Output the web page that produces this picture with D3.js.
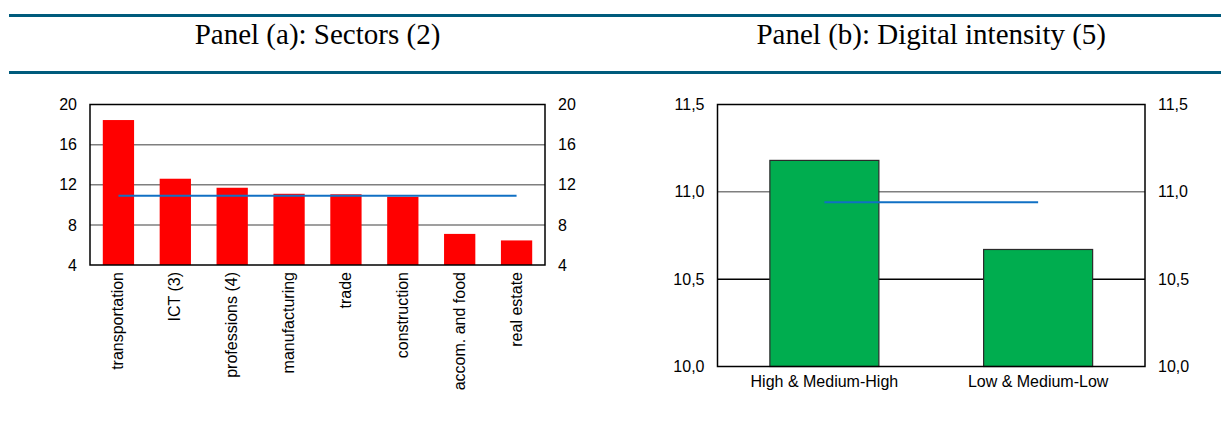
<!DOCTYPE html>
<html>
<head>
<meta charset="utf-8">
<script src="https://cdn.jsdelivr.net/npm/d3@7"></script>
<style>
  html, body { margin: 0; padding: 0; background: #ffffff; }
  svg { display: block; }
  .tick-label { font-family: "Liberation Sans", Arial, sans-serif; font-size: 16px; fill: #000; }
  .title { font-family: "Liberation Serif", "Times New Roman", serif; font-size: 29px; fill: #000; }
</style>
</head>
<body>
<svg id="chart" width="1221" height="428"></svg>
<script>
// Panel (a): sectors
const sectors = ["transportation", "ICT (3)", "professions (4)", "manufacturing", "trade", "construction", "accom. and food", "real estate"];
const sectorValues = [18.45, 12.6, 11.7, 11.1, 11.05, 10.8, 7.1, 6.45];
const sectorAverage = 10.9;
const sectorTicks = [4, 8, 12, 16, 20];

// Panel (b): digital intensity
const intensityGroups = ["High & Medium-High", "Low & Medium-Low"];
const intensityValues = [11.18, 10.67];
const intensityAverage = 10.94;
const intensityTicks = [10.0, 10.5, 11.0, 11.5];

const svg = d3.select("#chart");
const W = 1221;

// Header rules
const ruleColor = "#005b7c";
[15.5, 72.5].forEach(y => {
  svg.append("line")
    .attr("x1", 9).attr("x2", W).attr("y1", y).attr("y2", y)
    .attr("stroke", ruleColor).attr("stroke-width", 3);
});

const commaFmt = d3.formatLocale({ decimal: ",", thousands: ".", grouping: [3], currency: ["", ""] }).format(".1f");

function drawPanel(opts) {
  const { left, right, top, bottom, categories, values, average, domain, ticks, fmt,
          fill, stroke, paddingInner, gridColors, rotateLabels, title } = opts;

  const x = d3.scaleBand().domain(categories).range([left, right])
    .paddingInner(paddingInner).paddingOuter(paddingInner / 2);
  const y = d3.scaleLinear().domain(domain).range([bottom, top]);
  const g = svg.append("g");

  // title centred over the plot area
  g.append("text").attr("class", "title")
    .attr("x", (left + right) / 2).attr("y", 44)
    .attr("text-anchor", "middle").text(title);

  // gridlines
  ticks.slice(1, -1).forEach((t, i) => {
    g.append("line")
      .attr("x1", left).attr("x2", right)
      .attr("y1", y(t)).attr("y2", y(t))
      .attr("stroke", gridColors[i]).attr("stroke-width", 1.5);
  });

  // bars
  g.selectAll("rect.bar").data(values).join("rect")
    .attr("class", "bar")
    .attr("x", (d, i) => x(categories[i]))
    .attr("width", x.bandwidth())
    .attr("y", d => y(d))
    .attr("height", d => y(domain[0]) - y(d))
    .attr("fill", fill)
    .attr("stroke", stroke || "none")
    .attr("stroke-width", stroke ? 1.2 : 0);

  // average line from first to last category centre
  const cx = c => x(c) + x.bandwidth() / 2;
  g.append("line")
    .attr("x1", cx(categories[0])).attr("x2", cx(categories[categories.length - 1]))
    .attr("y1", y(average)).attr("y2", y(average))
    .attr("stroke", "#1070c4").attr("stroke-width", 2);

  // plot frame
  g.append("rect")
    .attr("x", left).attr("y", top)
    .attr("width", right - left).attr("height", bottom - top)
    .attr("fill", "none").attr("stroke", "#000").attr("stroke-width", 1.5);

  // left and right value axes
  const axisL = d3.axisLeft(y).tickValues(ticks).tickFormat(fmt).tickSize(0).tickPadding(13);
  const axisR = d3.axisRight(y).tickValues(ticks).tickFormat(fmt).tickSize(0).tickPadding(13);
  [[axisL, left], [axisR, right]].forEach(([ax, pos]) => {
    const a = g.append("g").attr("transform", `translate(${pos},0)`).call(ax);
    a.select(".domain").remove();
    a.selectAll("text").attr("class", "tick-label").attr("font-size", null).attr("font-family", null);
  });

  // category labels
  categories.forEach(c => {
    const t = g.append("text").attr("class", "tick-label").text(c);
    if (rotateLabels) {
      t.attr("transform", `translate(${cx(c) + 5},${bottom + 7}) rotate(-90)`)
        .attr("text-anchor", "end");
    } else {
      t.attr("x", cx(c)).attr("y", bottom + 20).attr("text-anchor", "middle");
    }
  });
}

drawPanel({
  left: 90, right: 545, top: 104.5, bottom: 265,
  categories: sectors, values: sectorValues, average: sectorAverage,
  domain: [4, 20], ticks: sectorTicks, fmt: d3.format("d"),
  fill: "#ff0000", stroke: null, paddingInner: 0.45,
  gridColors: ["#7f7f7f", "#7f7f7f", "#7f7f7f"], rotateLabels: true,
  title: "Panel (a): Sectors (2)"
});

drawPanel({
  left: 717.5, right: 1145, top: 104.5, bottom: 366.5,
  categories: intensityGroups, values: intensityValues, average: intensityAverage,
  domain: [10, 11.5], ticks: intensityTicks, fmt: commaFmt,
  fill: "#00ad4f", stroke: "#2b2b2b", paddingInner: 0.49,
  gridColors: ["#000000", "#7f7f7f"], rotateLabels: false,
  title: "Panel (b): Digital intensity (5)"
});
</script>
</body>
</html>
